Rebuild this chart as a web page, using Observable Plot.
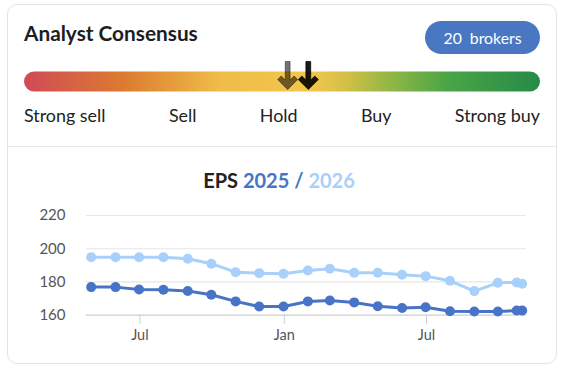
<!DOCTYPE html>
<html>
<head>
<meta charset="utf-8">
<script src="https://cdn.jsdelivr.net/npm/d3@7"></script>
<script src="https://cdn.jsdelivr.net/npm/@observablehq/plot@0.6"></script>
<style>
  html, body { margin: 0; padding: 0; background: #fff; }
  body { position: relative; width: 561px; height: 368px; overflow: hidden; font-family: Lato, "Noto Sans", sans-serif; color: #222; }
  .card { position: absolute; left: 7px; top: 4px; width: 548px; height: 358px; border: 1px solid #e3e3e3; border-radius: 10px; }
  .title { position: absolute; left: 24px; top: 22.5px; font: 700 20.8px/20.8px Lato, sans-serif; color: #1e1e1e; white-space: nowrap; }
  .badge { position: absolute; left: 425px; top: 21px; width: 115px; height: 33px; border-radius: 17px; background: #4a77c1; color: #fff; font: 400 15.8px/33px Lato, sans-serif; text-align: center; word-spacing: 4px; }
  .labels { position: absolute; left: 24px; top: 107px; width: 516px; display: flex; justify-content: space-between; font: 400 17.9px/17.6px Lato, sans-serif; color: #222; white-space: nowrap; }
  .divider { position: absolute; left: 8px; top: 146px; width: 548px; height: 1px; background: #e8e8e8; }
  .eps { position: absolute; left: 5px; width: 548px; top: 170px; text-align: center; font: 700 20px/20px Lato, sans-serif; color: #222; white-space: nowrap; }
  #header { position: absolute; left: 0; top: 55px; }
  #chart { position: absolute; left: 0; top: 200px; }
  svg { overflow: visible; }
</style>
</head>
<body>
<div class="card"></div>
<div class="title" id="title"></div>
<div class="badge" id="badge"></div>
<div id="header"></div>
<div class="labels" id="labels"></div>
<div class="divider"></div>
<div class="eps" id="eps"></div>
<div id="chart"></div>
<script>
// ---- data ----
const titleText = "Analyst Consensus";
const brokerCount = 20;
const ratingLabels = ["Strong sell", "Sell", "Hold", "Buy", "Strong buy"];
const ratingDomain = [1, 5];
const consensusValues = [3.04, 3.2];        // previous, current
const consensusOpacity = [0.55, 0.9];

const epsTitle = "EPS";
const seriesNames = ["2025", "2026"];
const seriesColors = ["#4774c6", "#a8d0fa"];
const dates = ["2024-04-30","2024-05-31","2024-06-30","2024-07-31","2024-08-31","2024-09-30","2024-10-31","2024-11-30","2024-12-31","2025-01-31","2025-02-28","2025-03-31","2025-04-30","2025-05-31","2025-06-30","2025-07-31","2025-08-31","2025-09-30","2025-10-24","2025-10-31"];
const eps2025 = [176.9,176.9,175.5,175.3,174.6,172.3,168.3,165.2,165.2,168.3,168.9,167.7,165.4,164.3,164.8,162.4,162.2,162.2,162.8,162.8];
const eps2026 = [194.9,194.9,194.9,194.9,194.0,191.0,185.9,185.3,184.9,186.9,188.0,185.5,185.5,184.3,183.5,180.7,174.5,179.5,179.7,178.9];
const yTicks = [160, 180, 200, 220];
const xTicks = ["2024-07-01", "2025-01-01", "2025-07-01"];

// ---- header text ----
document.getElementById("title").textContent = titleText;
document.getElementById("badge").textContent = brokerCount + " brokers";
const lab = document.getElementById("labels");
ratingLabels.forEach(t => { const s = document.createElement("span"); s.textContent = t; lab.appendChild(s); });
const eps = document.getElementById("eps");
eps.innerHTML = `<span>${epsTitle} </span><span style="color:${seriesColors[0]}">${seriesNames[0]} / </span><span style="color:${seriesColors[1]}"> ${seriesNames[1]}</span>`;

// ---- consensus bar ----
// custom down-arrow symbol (shaft + thick chevron head), unit half-height 14
const downArrow = {
  draw(context, size) {
    const k = Math.sqrt(size / Math.PI) / 14;
    const w = 2.4, pts = [[-w,-14],[w,-14],[w,4.6],[6.4,0.6],[10,4],[0,14],[-10,4],[-6.4,0.6],[-w,4.6]];
    pts.forEach(([x, y], i) => i ? context.lineTo(x * k, y * k) : context.moveTo(x * k, y * k));
    context.closePath();
  }
};
const arrows = consensusValues.map((v, i) => ({v, o: consensusOpacity[i]}));
const header = Plot.plot({
  width: 561, height: 45,
  marginLeft: 24, marginRight: 21, marginTop: 0, marginBottom: 0,
  x: {domain: ratingDomain, axis: null},
  y: {type: "identity", axis: null},
  marks: [
    Plot.rect([ratingDomain], {x1: d => d[0], x2: d => d[1], y1: 16.5, y2: 36.5, rx: 10, fill: "url(#consensusGrad)"}),
    Plot.dot(arrows, {x: "v", y: 20, symbol: downArrow, r: 14, fill: "#000", fillOpacity: "o", stroke: "#000", strokeOpacity: "o", strokeWidth: 0.8, strokeLinejoin: "round"})
  ]
});
header.insertAdjacentHTML("afterbegin",
  `<defs><linearGradient id="consensusGrad" x1="0" x2="1" y1="0" y2="0">
    <stop offset="0" stop-color="#d04a56"/>
    <stop offset="0.19" stop-color="#dc7a30"/>
    <stop offset="0.38" stop-color="#efbd48"/>
    <stop offset="0.56" stop-color="#f2c64c"/>
    <stop offset="0.62" stop-color="#d6c048"/>
    <stop offset="0.70" stop-color="#98b846"/>
    <stop offset="0.82" stop-color="#4aa545"/>
    <stop offset="1" stop-color="#268a48"/>
  </linearGradient></defs>`);
document.getElementById("header").appendChild(header);

// ---- EPS chart ----
const parse = d3.utcParse("%Y-%m-%d");
const rows = [];
dates.forEach((d, i) => {
  rows.push({date: parse(d), value: eps2026[i], series: seriesNames[1]});
});
dates.forEach((d, i) => {
  rows.push({date: parse(d), value: eps2025[i], series: seriesNames[0]});
});
const chart = Plot.plot({
  width: 561, height: 150,
  marginLeft: 86, marginRight: 35, marginTop: 15, marginBottom: 35.3,
  insetLeft: 4.7, insetRight: 4.3,
  style: {fontFamily: "Lato, sans-serif", background: "transparent"},
  x: {type: "utc", domain: [parse(dates[0]), parse(dates[dates.length - 1])]},
  y: {domain: [yTicks[0], yTicks[yTicks.length - 1]]},
  color: {domain: seriesNames, range: seriesColors},
  marks: [
    Plot.ruleY(yTicks.slice(1), {stroke: "#e6e6e6", strokeWidth: 1.2}),
    Plot.ruleY(yTicks.slice(0, 1), {stroke: "#cdcdcd", strokeWidth: 1.2}),
    Plot.axisY({ticks: yTicks, tickSize: 0, tickPadding: 21, fontSize: 15, fill: "#555", label: null}),
    Plot.axisX({ticks: xTicks.map(parse), tickFormat: d3.utcFormat("%b"), tickSize: 9, tickPadding: 6, fontSize: 14.5, stroke: "#d0d0d0", fill: "#555", label: null}),
    Plot.line(rows, {x: "date", y: "value", z: "series", stroke: "series", strokeWidth: 3, curve: "linear"}),
    Plot.dot(rows, {x: "date", y: "value", fill: "series", r: 5})
  ]
});
document.getElementById("chart").appendChild(chart);
</script>
</body>
</html>
